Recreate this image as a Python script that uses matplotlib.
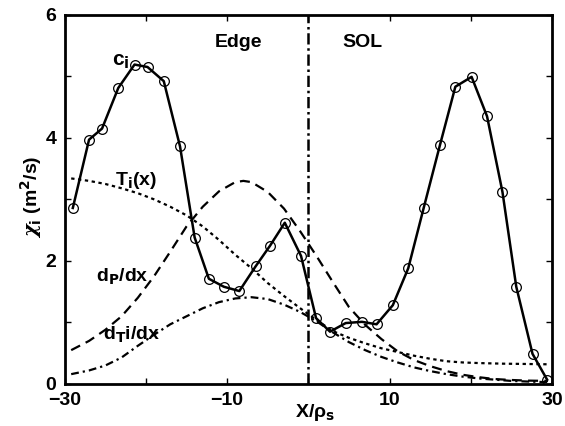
import matplotlib
matplotlib.use("Agg")
import matplotlib.pyplot as plt
from matplotlib.ticker import FixedLocator, FuncFormatter

plt.rcParams['font.family'] = ['Liberation Sans Narrow', 'Liberation Sans', 'DejaVu Sans']
plt.rcParams['font.weight'] = 'bold'
plt.rcParams['mathtext.fontset'] = 'custom'
plt.rcParams['mathtext.rm'] = 'Liberation Sans Narrow:bold'
plt.rcParams['mathtext.it'] = 'DejaVu Serif:italic'
plt.rcParams['mathtext.bf'] = 'Liberation Sans Narrow:bold'
plt.rcParams['mathtext.default'] = 'rm'

# chi_i data (circles, solid line)
ci_x = [-29.0, -27.0, -25.4, -23.4, -21.4, -19.8, -17.8, -15.8, -14.0, -12.25, -10.4,
        -8.5, -6.5, -4.7, -2.9, -0.9, 0.95, 2.67, 4.6, 6.6, 8.4, 10.4, 12.3, 14.2,
        16.2, 18.1, 20.1, 22.0, 23.9, 25.6, 27.6, 29.4]
ci_y = [2.86, 3.97, 4.15, 4.81, 5.19, 5.15, 4.92, 3.86, 2.38, 1.71, 1.58,
        1.51, 1.91, 2.25, 2.62, 2.08, 1.07, 0.85, 0.99, 1.01, 0.97, 1.28, 1.88, 2.86,
        3.88, 4.83, 4.99, 4.35, 3.12, 1.58, 0.49, 0.07]

# T_i(x) (dotted)
ti_x = [-29.2, -27, -25, -23, -21, -19, -17, -15, -13, -11, -9, -7, -5, -3, -1,
        1, 3, 5, 7, 9, 11, 13, 15, 17, 19, 21, 24, 27, 29.5]
ti_y = [3.34, 3.30, 3.25, 3.18, 3.10, 3.00, 2.88, 2.74, 2.56, 2.34, 2.10, 1.88, 1.64,
        1.43, 1.23, 1.04, 0.86, 0.75, 0.66, 0.58, 0.52, 0.46, 0.41, 0.37, 0.35, 0.34,
        0.33, 0.325, 0.32]

# dp/dx (dashed)
dp_x = [-29.2, -27, -25, -23, -21, -19, -17, -15, -13, -11, -9, -8, -7, -5, -3, -1,
        1, 3, 5, 7, 9, 11, 13, 15, 17, 19, 21, 23, 25, 27, 29.5]
dp_y = [0.55, 0.70, 0.88, 1.10, 1.40, 1.75, 2.15, 2.56, 2.88, 3.13, 3.28, 3.30, 3.28,
        3.12, 2.85, 2.48, 2.08, 1.66, 1.25, 0.96, 0.73, 0.53, 0.39, 0.29, 0.21, 0.15,
        0.11, 0.08, 0.065, 0.055, 0.05]

# dTi/dx (dash-dot)
dt_x = [-29.2, -27, -25, -23, -21, -19, -17, -15, -13, -11, -9, -7, -5, -3, -1,
        1, 3, 5, 7, 9, 11, 13, 15, 17, 19, 21, 23, 25, 27, 29.5]
dt_y = [0.16, 0.22, 0.30, 0.43, 0.62, 0.80, 0.97, 1.10, 1.23, 1.33, 1.39, 1.41, 1.38,
        1.29, 1.17, 1.02, 0.84, 0.68, 0.55, 0.44, 0.35, 0.27, 0.21, 0.16, 0.12, 0.09,
        0.07, 0.05, 0.04, 0.03]

separatrix_x = 0.0

x_ticks = [-30, -20, -10, 0, 10, 20, 30]
x_labels = {-30: '\u221230', -10: '\u221210', 10: '10', 30: '30'}
y_ticks = [0, 1, 2, 3, 4, 5, 6]
y_labels = {0: '0', 2: '2', 4: '4', 6: '6'}

fig = plt.figure(figsize=(5.65, 4.26), dpi=100)
ax = fig.add_axes([0.1145, 0.0986, 0.977 - 0.1145, 0.9655 - 0.0986])

lw = 1.6
ax.plot(ti_x, ti_y, color='black', lw=lw, linestyle=(0, (1.5, 1.6)))
ax.plot(dp_x, dp_y, color='black', lw=lw, linestyle=(0, (4.5, 2.8)))
ax.plot(dt_x, dt_y, color='black', lw=lw, linestyle=(0, (3.5, 1.8, 1.0, 1.8)))
ax.plot(ci_x, ci_y, color='black', lw=1.8, marker='o', markersize=7,
        markerfacecolor='none', markeredgecolor='black', markeredgewidth=0.9)
ax.axvline(separatrix_x, color='black', lw=1.8, linestyle=(0, (4.5, 1.5, 1.0, 1.5)))

ax.set_xlim(-30, 30)
ax.set_ylim(0, 6)

ax.xaxis.set_major_locator(FixedLocator(x_ticks))
ax.xaxis.set_major_formatter(FuncFormatter(lambda v, p: x_labels.get(int(round(v)), '')))
ax.yaxis.set_major_locator(FixedLocator(y_ticks))
ax.yaxis.set_major_formatter(FuncFormatter(lambda v, p: y_labels.get(int(round(v)), '')))
ax.tick_params(direction='in', length=4, width=1, top=True, right=True,
               labelsize=14, pad=6)
for lab in ax.get_xticklabels() + ax.get_yticklabels():
    lab.set_fontweight('bold')
for s in ax.spines.values():
    s.set_linewidth(2)

ax.set_xlabel('X/\u03c1$_\\mathrm{s}$', fontsize=14, fontweight='bold')
ax.xaxis.set_label_coords(0.514, -0.078)
ax.xaxis.label.set_va('center')
ax.set_ylabel('$\\mathit{\\chi}_\\mathrm{i}$ (m$^\\mathrm{2}$/s)', fontsize=14, fontweight='bold')
ax.yaxis.set_label_coords(-0.069, 0.506)
ax.yaxis.label.set_va('center')

tk = dict(fontsize=14, fontweight='bold', color='black')
ax.text(-8.6, 5.48, 'Edge', ha='center', va='baseline', **tk)
ax.text(6.6, 5.48, 'SOL', ha='center', va='baseline', **tk)
ax.text(-24.2, 5.18, 'c$_\\mathrm{i}$', ha='left', va='baseline', fontsize=15, fontweight='bold')
ax.text(-23.8, 3.23, 'T$_\\mathrm{i}$(x)', ha='left', va='baseline', **tk)
ax.text(-26.2, 1.66, 'd$_\\mathrm{P}$/dx', ha='left', va='baseline', **tk)
ax.text(-25.3, 0.72, 'd$_\\mathrm{T}$i/dx', ha='left', va='baseline', **tk)

fig.savefig('out.png', dpi=100)
